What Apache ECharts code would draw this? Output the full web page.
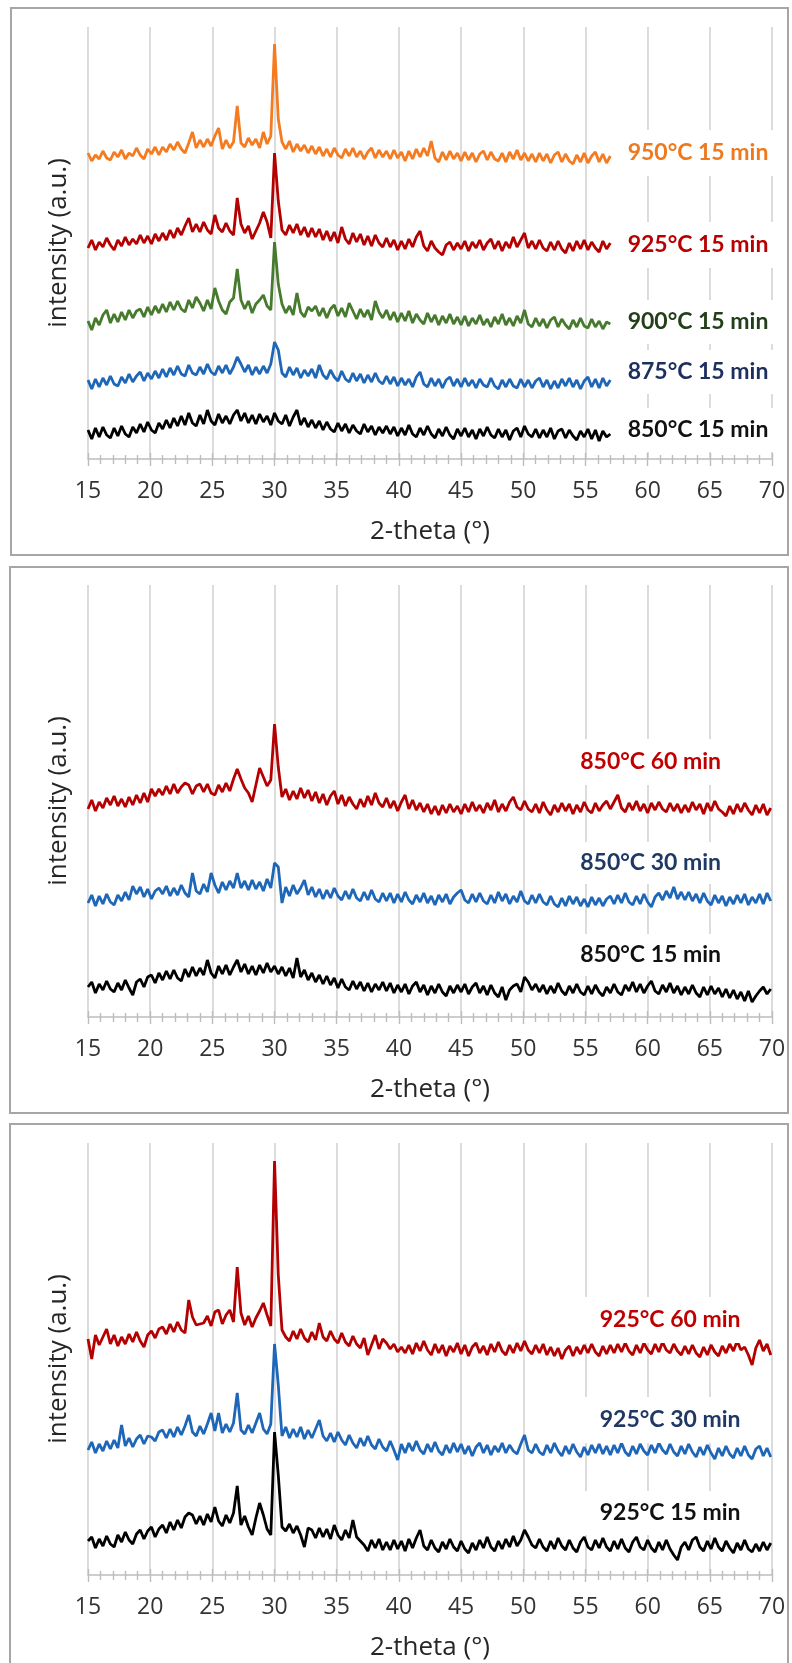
<!DOCTYPE html>
<html lang="en">
<head>
    <meta charset="utf-8">
    <title>XRD patterns</title>
    <script src="https://cdn.jsdelivr.net/npm/echarts@6/dist/echarts.min.js"></script>
    <style>
        body { margin: 0; background: #fff; }
        #main { width: 792px; height: 1663px; }
    </style>
</head>
<body>
<div id="main"></div>
<script type="text/javascript">
    // 2-theta sampling of every trace: 15.0, 15.3, 15.6 ...
    const thetaStart = 15;
    const thetaStep = 0.3;

    // x axis ticks
    const xMin = 15, xMax = 70, xInterval = 5;

    // panel 1 : 15 min, different temperatures (traces stop at 57 deg)
    const i950_15 = [
        306, 298, 304, 300, 308, 301, 299, 307, 302, 309, 300, 306, 303, 311, 304, 300, 310, 305, 312, 304,
        312, 307, 315, 309, 317, 310, 306, 316, 327, 311, 319, 312, 320, 313, 323, 331, 310, 319, 311, 317,
        353, 316, 312, 321, 314, 320, 311, 327, 315, 323, 415, 340, 317, 310, 318, 307, 315, 308, 314, 306,
        313, 305, 312, 303, 310, 302, 311, 304, 301, 310, 303, 311, 302, 308, 300, 307, 311, 301, 309, 302,
        308, 300, 309, 301, 307, 298, 308, 300, 310, 302, 311, 303, 318, 301, 297, 307, 299, 308, 300, 306,
        298, 307, 299, 306, 297, 305, 308, 299, 307, 300, 298, 306, 297, 307, 300, 309, 299, 306, 298, 305,
        297, 306, 298, 305, 296, 304, 307, 297, 305, 298, 295, 304, 297, 306, 296, 303, 307, 297, 305, 296,
        303
    ];
    const i925_15a = [
        211, 219, 209, 217, 212, 221, 214, 209, 219, 213, 222, 214, 220, 215, 224, 216, 223, 215, 225, 218,
        226, 219, 229, 221, 231, 224, 233, 241, 227, 235, 227, 237, 229, 225, 244, 231, 227, 236, 228, 224,
        261, 235, 226, 233, 220, 228, 236, 247, 237, 221, 306, 258, 229, 224, 234, 226, 235, 224, 232, 222,
        231, 222, 230, 219, 228, 218, 227, 216, 232, 220, 215, 226, 217, 225, 214, 223, 213, 224, 216, 212,
        221, 212, 219, 209, 218, 210, 220, 212, 222, 228, 213, 208, 218, 211, 207, 204, 214, 217, 209, 216,
        210, 218, 208, 217, 211, 219, 209, 216, 220, 210, 218, 208, 217, 211, 222, 212, 219, 226, 211, 218,
        210, 219, 211, 208, 217, 209, 218, 210, 206, 216, 208, 218, 210, 219, 209, 217, 211, 207, 218, 210,
        216
    ];
    const i900_15 = [
        138, 129, 141, 134, 144, 149, 136, 145, 137, 147, 139, 149, 141, 148, 150, 142, 152, 144, 153, 146,
        155, 147, 157, 149, 158, 150, 147, 159, 151, 162, 156, 148, 159, 150, 171, 158, 149, 145, 157, 161,
        190, 159, 150, 158, 146, 155, 159, 164, 153, 149, 217, 175, 155, 146, 153, 144, 166, 147, 142, 152,
        148, 153, 143, 151, 141, 150, 154, 143, 151, 142, 156, 148, 140, 150, 142, 149, 139, 158, 147, 141,
        149, 139, 147, 137, 146, 138, 148, 136, 145, 139, 135, 146, 137, 144, 134, 143, 136, 145, 135, 142,
        134, 143, 133, 141, 135, 144, 134, 140, 132, 142, 135, 145, 134, 141, 133, 143, 136, 149, 135, 132,
        141, 133, 140, 131, 139, 142, 132, 140, 134, 130, 139, 132, 141, 133, 131, 140, 132, 138, 130, 137,
        135
    ];
    const i875_15 = [
        79, 70, 80, 72, 81, 74, 83, 75, 73, 82, 76, 85, 77, 83, 87, 78, 86, 80, 88, 81,
        90, 82, 91, 84, 93, 85, 83, 94, 86, 84, 92, 85, 95, 87, 84, 93, 86, 94, 85, 92,
        102, 95, 87, 94, 84, 92, 85, 93, 86, 95, 117, 109, 86, 82, 92, 84, 91, 81, 89, 83,
        90, 81, 94, 84, 80, 89, 82, 78, 88, 80, 77, 86, 78, 85, 76, 84, 77, 86, 78, 75,
        83, 75, 82, 73, 81, 74, 80, 72, 82, 87, 75, 72, 81, 73, 80, 71, 79, 82, 73, 80,
        72, 81, 73, 79, 71, 80, 74, 72, 81, 73, 70, 79, 72, 80, 73, 71, 80, 72, 79, 71,
        78, 81, 72, 79, 70, 78, 71, 80, 73, 81, 72, 79, 70, 78, 82, 72, 80, 71, 81, 73,
        79
    ];
    const i850_15a = [
        29, 20, 31, 22, 32, 24, 21, 31, 23, 33, 25, 22, 32, 26, 35, 27, 37, 29, 26, 36,
        30, 39, 31, 41, 33, 43, 34, 46, 36, 33, 44, 35, 49, 38, 34, 45, 36, 43, 35, 44,
        49, 38, 46, 36, 44, 35, 45, 37, 43, 34, 46, 38, 35, 44, 33, 42, 49, 34, 41, 32,
        39, 31, 38, 29, 37, 30, 27, 36, 28, 35, 26, 34, 28, 25, 35, 27, 33, 24, 32, 26,
        33, 25, 32, 23, 31, 24, 34, 25, 22, 31, 24, 33, 25, 21, 30, 23, 32, 24, 20, 30,
        23, 31, 22, 29, 20, 30, 23, 32, 24, 21, 30, 22, 29, 19, 28, 31, 22, 33, 25, 22,
        30, 21, 29, 22, 31, 20, 28, 30, 21, 29, 23, 19, 28, 22, 30, 20, 29, 18, 28, 22,
        25
    ];

    // panel 2 : 850 C, different times
    const i850_60 = [
        208, 217, 206, 215, 209, 219, 212, 221, 211, 218, 210, 220, 212, 222, 214, 224, 215, 228, 221, 228,
        222, 231, 223, 233, 224, 230, 234, 232, 223, 231, 233, 225, 233, 224, 222, 232, 225, 234, 226, 238,
        248, 238, 229, 224, 215, 232, 249, 240, 231, 237, 293, 250, 220, 228, 217, 226, 218, 229, 219, 227,
        216, 225, 214, 223, 212, 221, 226, 213, 222, 211, 220, 213, 208, 218, 210, 221, 212, 224, 214, 210,
        219, 209, 216, 206, 215, 222, 208, 217, 207, 214, 205, 213, 203, 211, 202, 212, 204, 213, 205, 211,
        203, 213, 205, 215, 206, 212, 204, 214, 207, 217, 205, 213, 206, 215, 220, 210, 207, 216, 208, 205,
        213, 204, 215, 207, 202, 212, 205, 214, 206, 213, 203, 212, 205, 215, 207, 204, 214, 206, 212, 216,
        208, 215, 222, 209, 205, 214, 207, 216, 206, 213, 204, 214, 207, 215, 208, 205, 214, 206, 213, 204,
        212, 205, 215, 207, 213, 203, 214, 206, 216, 208, 205, 201, 211, 203, 213, 205, 214, 207, 202, 212,
        204, 213, 202, 209
    ];
    const i850_30 = [
        114, 122, 111, 121, 113, 123, 115, 112, 122, 116, 125, 117, 131, 123, 130, 120, 128, 118, 126, 129,
        123, 131, 121, 129, 122, 132, 124, 120, 144, 126, 123, 133, 125, 144, 132, 124, 135, 127, 136, 129,
        144, 129, 136, 127, 137, 128, 135, 126, 138, 129, 154, 150, 114, 130, 121, 132, 123, 129, 137, 122,
        130, 120, 128, 118, 127, 119, 129, 121, 117, 126, 118, 128, 119, 116, 125, 117, 127, 118, 115, 124,
        116, 124, 114, 123, 115, 125, 117, 113, 122, 115, 124, 114, 121, 112, 122, 115, 123, 113, 120, 124,
        127, 117, 114, 123, 115, 124, 116, 113, 122, 114, 125, 116, 123, 113, 121, 115, 126, 116, 113, 122,
        114, 123, 115, 112, 121, 113, 110, 119, 111, 121, 113, 120, 111, 118, 110, 120, 112, 119, 111, 118,
        121, 113, 122, 114, 124, 115, 112, 121, 113, 123, 115, 110, 120, 124, 117, 126, 119, 130, 118, 125,
        117, 125, 116, 123, 114, 124, 116, 112, 122, 114, 121, 111, 120, 113, 122, 114, 123, 112, 120, 114,
        123, 113, 124, 116
    ];
    const i850_15b = [
        30, 35, 24, 33, 27, 36, 28, 25, 34, 27, 37, 29, 22, 35, 38, 30, 40, 42, 34, 44,
        37, 46, 38, 47, 39, 36, 48, 40, 50, 41, 49, 42, 57, 44, 39, 51, 43, 52, 42, 50,
        57, 45, 53, 43, 51, 42, 52, 44, 54, 45, 51, 43, 50, 41, 49, 39, 59, 40, 47, 37,
        44, 35, 42, 33, 41, 32, 39, 29, 38, 30, 27, 36, 28, 35, 26, 34, 25, 33, 27, 35,
        26, 34, 24, 32, 25, 33, 23, 31, 35, 25, 32, 22, 31, 24, 33, 25, 21, 31, 24, 32,
        25, 33, 23, 30, 34, 24, 31, 22, 32, 24, 20, 30, 17, 27, 31, 33, 25, 40, 35, 27,
        33, 25, 32, 23, 31, 24, 34, 26, 22, 31, 24, 33, 25, 22, 31, 23, 32, 25, 21, 30,
        24, 33, 25, 22, 32, 26, 35, 25, 33, 24, 31, 36, 26, 23, 32, 25, 34, 24, 31, 22,
        30, 23, 32, 24, 20, 30, 22, 31, 23, 29, 20, 28, 19, 27, 18, 25, 16, 26, 15, 21,
        26, 30, 23, 28
    ];

    // panel 3 : 925 C, different times
    const i925_60 = [
        236, 216, 240, 230, 238, 246, 231, 240, 229, 238, 231, 241, 233, 243, 234, 228, 240, 244, 237, 246,
        248, 241, 251, 243, 253, 245, 242, 275, 258, 250, 251, 252, 259, 249, 263, 265, 251, 260, 265, 253,
        308, 262, 250, 259, 248, 257, 264, 272, 260, 249, 414, 300, 245, 238, 234, 244, 236, 246, 237, 233,
        243, 235, 252, 238, 234, 244, 236, 232, 242, 233, 229, 239, 231, 227, 237, 220, 230, 240, 226, 236,
        232, 226, 231, 223, 228, 222, 230, 221, 232, 224, 234, 225, 220, 231, 222, 230, 219, 229, 223, 232,
        221, 230, 219, 228, 232, 222, 229, 220, 231, 223, 233, 224, 220, 230, 222, 232, 224, 234, 225, 221,
        230, 222, 231, 220, 228, 219, 227, 216, 225, 229, 219, 228, 221, 230, 222, 231, 223, 219, 229, 221,
        230, 222, 231, 223, 232, 224, 220, 230, 222, 232, 225, 221, 231, 223, 233, 225, 222, 231, 224, 220,
        229, 221, 230, 222, 218, 228, 220, 230, 223, 219, 229, 222, 231, 224, 234, 225, 228, 220, 210, 227,
        235, 224, 231, 220
    ];
    const i925_30 = [
        125, 133, 122, 131, 124, 134, 126, 135, 127, 150, 129, 137, 128, 136, 140, 131, 139, 138, 134, 143,
        145, 137, 146, 138, 148, 140, 149, 160, 143, 139, 149, 141, 151, 162, 144, 162, 142, 151, 143, 152,
        182, 145, 141, 150, 142, 152, 162, 146, 141, 151, 231, 190, 139, 148, 137, 146, 138, 148, 136, 145,
        137, 146, 155, 139, 134, 142, 133, 143, 135, 130, 140, 132, 127, 137, 129, 139, 130, 126, 136, 128,
        124, 134, 125, 115, 131, 122, 132, 124, 134, 125, 121, 131, 123, 133, 124, 120, 130, 122, 132, 123,
        131, 121, 129, 119, 128, 132, 122, 130, 120, 129, 123, 132, 122, 130, 124, 121, 131, 140, 125, 122,
        131, 123, 120, 130, 122, 132, 124, 119, 129, 121, 131, 123, 118, 128, 120, 130, 122, 131, 121, 129,
        120, 130, 122, 132, 123, 119, 129, 121, 131, 124, 120, 130, 122, 132, 125, 121, 131, 123, 119, 129,
        121, 131, 123, 118, 128, 120, 130, 122, 116, 127, 119, 129, 121, 117, 127, 119, 129, 120, 116, 126,
        129, 119, 127, 118
    ];
    const i925_15b = [
        34, 38, 27, 36, 29, 39, 31, 28, 40, 33, 43, 35, 31, 41, 45, 36, 44, 48, 38, 46,
        50, 42, 53, 45, 55, 47, 58, 62, 60, 51, 59, 50, 61, 53, 68, 54, 49, 60, 52, 62,
        89, 50, 59, 48, 40, 57, 72, 60, 46, 40, 143, 100, 48, 44, 51, 42, 49, 40, 28, 47,
        45, 37, 47, 38, 46, 36, 50, 40, 35, 45, 37, 55, 38, 34, 30, 24, 35, 27, 36, 25,
        33, 25, 35, 26, 34, 24, 36, 27, 37, 45, 29, 25, 35, 27, 23, 33, 26, 36, 28, 24,
        34, 26, 22, 32, 25, 35, 27, 38, 28, 24, 34, 26, 36, 28, 39, 29, 35, 45, 38, 30,
        27, 36, 28, 24, 34, 26, 37, 29, 25, 35, 27, 23, 33, 38, 28, 25, 35, 27, 37, 28,
        24, 34, 26, 36, 27, 23, 33, 38, 28, 25, 35, 27, 23, 33, 25, 35, 26, 20, 15, 28,
        33, 25, 35, 38, 28, 24, 34, 26, 37, 28, 24, 34, 27, 22, 32, 25, 35, 26, 23, 31,
        24, 33, 25, 32
    ];

    const FONT = "'Open Sans', 'DejaVu Sans', sans-serif";
    const LABEL_FONT = "Lato, 'Open Sans', sans-serif";

    // name, values, line colour, label colour, label anchor [2-theta, intensity], box size
    const panels = [
        {
            top: 27,
            traces: [
                ['950°C 15 min', i950_15, '#F47B20', '#EE791E', [64.05, 306], [168, 46]],
                ['925°C 15 min', i925_15a, '#B40000', '#B80000', [64.05, 214], [168, 46]],
                ['900°C 15 min', i900_15, '#467A2C', '#233F1A', [64.05, 137], [168, 44]],
                ['875°C 15 min', i875_15, '#1E66B8', '#1C2F5E', [64.05, 87], [168, 44]],
                ['850°C 15 min', i850_15a, '#000000', '#111111', [64.05, 29], [168, 44]]
            ]
        },
        {
            top: 585,
            traces: [
                ['850°C 60 min', i850_60, '#B40000', '#C00000', [60.24, 255], [168, 46]],
                ['850°C 30 min', i850_30, '#1E66B8', '#1F3864', [60.24, 154], [168, 42]],
                ['850°C 15 min', i850_15b, '#000000', '#111111', [60.24, 62], [168, 42]]
            ]
        },
        {
            top: 1143,
            traces: [
                ['925°C 60 min', i925_60, '#B40000', '#C00000', [61.81, 255], [172, 46]],
                ['925°C 30 min', i925_30, '#1E66B8', '#1F3864', [61.81, 155], [172, 46]],
                ['925°C 15 min', i925_15b, '#000000', '#111111', [61.81, 62], [172, 44]]
            ]
        }
    ];

    function thetaOf(k)
    {
        return +(thetaStart + thetaStep * k).toFixed(1);
    }

    const grids = [], xAxes = [], yAxes = [], seriesList = [];

    panels.forEach(function (p, pi)
    {
        grids.push({left: 88, right: 20, top: p.top, height: 432});

        // main axis: labels, grid lines, ticks below the line
        xAxes.push({
            type: 'value', gridIndex: pi, min: xMin, max: xMax, interval: xInterval,
            position: 'bottom',
            name: '2-theta (°)', nameLocation: 'middle', nameGap: 60,
            nameTextStyle: {fontSize: 26, fontFamily: FONT, color: '#262626'},
            axisLine: {show: true, lineStyle: {color: '#bdbdbd', width: 1.6}},
            axisTick: {show: true, inside: false, length: 7, lineStyle: {color: '#bdbdbd', width: 1.4}},
            minorTick: {show: true, splitNumber: 5, length: 5, lineStyle: {color: '#bdbdbd', width: 1.4}},
            axisLabel: {margin: 21, fontSize: 23, fontFamily: FONT, color: '#333333'},
            splitLine: {show: true, lineStyle: {color: '#d3d3d3', width: 1.6}}
        });
        // second axis on the same line: ticks above the line (cross ticks)
        xAxes.push({
            type: 'value', gridIndex: pi, min: xMin, max: xMax, interval: xInterval,
            position: 'bottom', offset: 0,
            axisLine: {show: false},
            axisTick: {show: true, inside: true, length: 6, lineStyle: {color: '#bdbdbd', width: 1.4}},
            minorTick: {show: true, splitNumber: 5, length: 4, lineStyle: {color: '#bdbdbd', width: 1.4}},
            axisLabel: {show: false},
            splitLine: {show: false}
        });

        yAxes.push({
            type: 'value', gridIndex: pi, min: 0, max: 432,
            name: 'intensity (a.u.)', nameLocation: 'middle', nameGap: 16,
            nameTextStyle: {fontSize: 26, fontFamily: FONT, color: '#262626'},
            axisLine: {show: false}, axisTick: {show: false},
            axisLabel: {show: false}, splitLine: {show: false}
        });

        p.traces.forEach(function (t)
        {
            seriesList.push({
                name: t[0],
                type: 'line',
                xAxisIndex: pi * 2,
                yAxisIndex: pi,
                showSymbol: false,
                symbol: 'none',
                lineStyle: {color: t[2], width: 2.8},
                itemStyle: {color: t[2]},
                data: t[1].map(function (v, k) { return [thetaOf(k), v]; }),
                markPoint: {
                    silent: true,
                    symbol: 'rect',
                    symbolSize: t[5],
                    itemStyle: {color: '#ffffff'},
                    label: {
                        show: true,
                        position: 'inside',
                        formatter: t[0],
                        color: t[3],
                        fontFamily: LABEL_FONT,
                        fontWeight: 'bold',
                        fontSize: 23
                    },
                    data: [{coord: t[4]}]
                }
            });
        });
    });

    const chart = echarts.init(document.getElementById('main'));
    chart.setOption({
        animation: false,
        backgroundColor: '#ffffff',
        grid: grids,
        xAxis: xAxes,
        yAxis: yAxes,
        series: seriesList,
        graphic: [
            {type: 'rect', silent: true, shape: {x: 11, y: 8, width: 777, height: 547},
                style: {fill: 'none', stroke: '#a6a6a6', lineWidth: 2}},
            {type: 'rect', silent: true, shape: {x: 10, y: 567, width: 778, height: 546},
                style: {fill: 'none', stroke: '#a6a6a6', lineWidth: 2}},
            {type: 'rect', silent: true, shape: {x: 10, y: 1124, width: 778, height: 600},
                style: {fill: 'none', stroke: '#a6a6a6', lineWidth: 2}}
        ]
    });
</script>
</body>
</html>
